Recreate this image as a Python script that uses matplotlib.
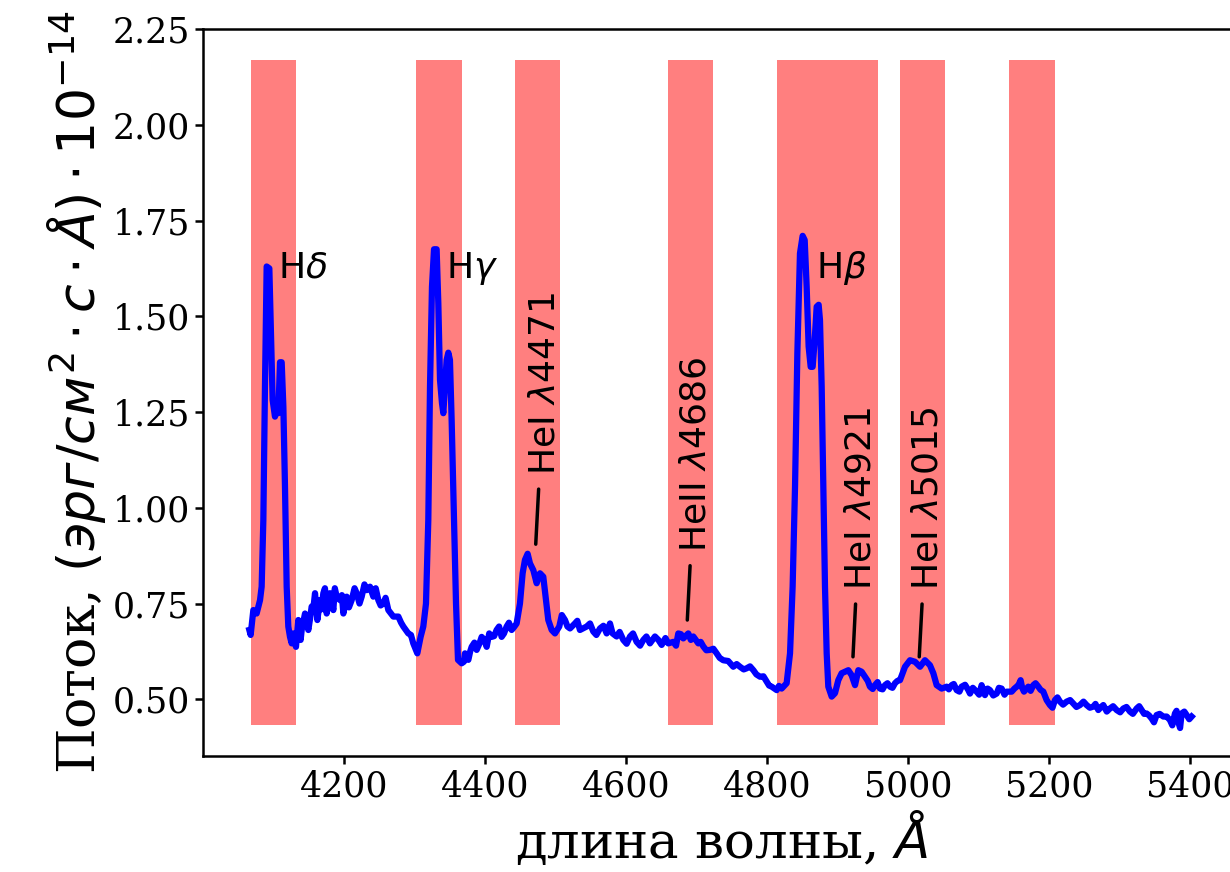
import numpy as np
import matplotlib
matplotlib.use('Agg')
import matplotlib.pyplot as plt

# spectrum (wavelength in A, flux in 1e-14 erg/cm2/s/A)
wave = [
    4065.7, 4067.6, 4071.4, 4076.1, 4080.9, 4083.2, 4085.6, 4087.9, 4090.3, 4094.1,
    4096.0, 4098.8, 4102.1, 4104.5, 4106.9, 4109.2, 4111.6, 4114.0, 4116.3, 4118.7,
    4121.0, 4123.4, 4125.8, 4128.1, 4131.9, 4135.2, 4140.0, 4144.7, 4149.4, 4154.1,
    4158.9, 4162.2, 4166.0, 4170.7, 4175.4, 4180.1, 4184.9, 4189.6, 4194.3, 4199.1,
    4203.8, 4210.9, 4218.0, 4225.1, 4232.1, 4236.9, 4241.6, 4248.7, 4255.8, 4262.9,
    4270.0, 4277.1, 4284.2, 4291.2, 4298.3, 4304.0, 4308.7, 4312.5, 4316.3, 4319.6,
    4322.0, 4324.8, 4327.7, 4331.4, 4333.8, 4336.2, 4339.0, 4340.9, 4343.2, 4345.6,
    4348.0, 4350.3, 4352.7, 4356.0, 4358.9, 4361.7, 4366.9, 4371.6, 4376.4, 4381.1,
    4388.2, 4395.3, 4402.4, 4409.4, 4416.5, 4423.6, 4430.7, 4437.8, 4444.9, 4449.6,
    4453.4, 4456.7, 4460.5, 4463.8, 4468.6, 4473.3, 4478.0, 4482.7, 4486.5, 4489.8,
    4494.6, 4499.3, 4505.4, 4513.5, 4520.6, 4527.6, 4534.7, 4544.2, 4553.6, 4563.1,
    4572.6, 4577.3, 4586.7, 4596.2, 4605.7, 4615.1, 4624.6, 4634.0, 4641.1, 4650.6,
    4660.0, 4667.1, 4674.2, 4681.3, 4688.4, 4695.5, 4702.6, 4709.7, 4719.1, 4728.6,
    4738.0, 4752.2, 4761.7, 4771.2, 4780.7, 4790.1, 4799.6, 4806.7, 4813.8, 4820.8,
    4827.9, 4832.7, 4836.4, 4839.8, 4843.1, 4846.8, 4850.6, 4853.5, 4856.3, 4859.1,
    4862.0, 4864.8, 4867.7, 4870.5, 4873.3, 4875.2, 4877.6, 4880.0, 4882.3, 4884.7,
    4887.0, 4891.8, 4896.5, 4901.2, 4905.9, 4910.7, 4915.4, 4920.1, 4924.9, 4929.6,
    4934.3, 4939.0, 4946.1, 4953.2, 4960.3, 4967.4, 4974.5, 4981.6, 4988.7, 4995.8,
    5002.9, 5010.0, 5017.1, 5024.1, 5031.2, 5036.0, 5040.7, 5047.8, 5054.9, 5062.0,
    5069.1, 5076.1, 5085.6, 5088.0, 5097.4, 5104.5, 5109.2, 5116.3, 5125.8, 5132.9,
    5140.0, 5147.1, 5154.2, 5159.8, 5164.6, 5170.7, 5177.8, 5184.9, 5192.0, 5196.7,
    5201.4, 5208.5, 5215.6, 5225.1, 5234.5, 5244.0, 5253.4, 5262.9, 5270.0, 5277.1,
    5286.5, 5296.0, 5305.5, 5314.9, 5324.4, 5331.5, 5338.5, 5345.6, 5352.7, 5362.2,
    5371.6, 5378.7, 5383.5, 5388.2, 5395.3, 5402.4,
]
flux = [
    0.681, 0.668, 0.733, 0.724, 0.759, 0.794, 0.968, 1.316, 1.630, 1.625,
    1.490, 1.281, 1.238, 1.264, 1.247, 1.380, 1.380, 1.264, 1.055, 0.794,
    0.690, 0.663, 0.646, 0.672, 0.637, 0.707, 0.681, 0.724, 0.681, 0.742,
    0.777, 0.707, 0.759, 0.777, 0.724, 0.777, 0.733, 0.768, 0.759, 0.724,
    0.768, 0.759, 0.777, 0.768, 0.785, 0.794, 0.768, 0.759, 0.750, 0.733,
    0.716, 0.716, 0.690, 0.672, 0.646, 0.620, 0.663, 0.690, 0.750, 0.968,
    1.316, 1.577, 1.675, 1.675, 1.534, 1.334, 1.273, 1.247, 1.316, 1.386,
    1.405, 1.386, 1.229, 0.968, 0.750, 0.603, 0.594, 0.620, 0.603, 0.637,
    0.629, 0.663, 0.637, 0.663, 0.681, 0.663, 0.690, 0.681, 0.698, 0.750,
    0.829, 0.864, 0.880, 0.855, 0.837, 0.803, 0.829, 0.820, 0.759, 0.707,
    0.681, 0.672, 0.690, 0.707, 0.685, 0.698, 0.681, 0.690, 0.677, 0.685,
    0.672, 0.698, 0.664, 0.655, 0.664, 0.650, 0.655, 0.646, 0.664, 0.642,
    0.646, 0.650, 0.672, 0.659, 0.672, 0.664, 0.646, 0.638, 0.629, 0.620,
    0.602, 0.585, 0.585, 0.581, 0.576, 0.559, 0.546, 0.533, 0.524, 0.528,
    0.542, 0.620, 0.794, 1.055, 1.403, 1.664, 1.710, 1.699, 1.577, 1.421,
    1.368, 1.368, 1.438, 1.525, 1.530, 1.490, 1.316, 1.055, 0.794, 0.620,
    0.533, 0.507, 0.516, 0.550, 0.568, 0.572, 0.576, 0.563, 0.537, 0.576,
    0.572, 0.559, 0.533, 0.537, 0.528, 0.537, 0.533, 0.542, 0.550, 0.585,
    0.602, 0.598, 0.585, 0.602, 0.589, 0.568, 0.537, 0.528, 0.533, 0.537,
    0.524, 0.533, 0.524, 0.515, 0.520, 0.537, 0.511, 0.524, 0.515, 0.528,
    0.520, 0.520, 0.533, 0.550, 0.520, 0.533, 0.537, 0.533, 0.520, 0.498,
    0.485, 0.498, 0.494, 0.494, 0.489, 0.485, 0.485, 0.481, 0.472, 0.485,
    0.476, 0.472, 0.476, 0.468, 0.476, 0.472, 0.463, 0.450, 0.459, 0.455,
    0.446, 0.463, 0.441, 0.463, 0.459, 0.455,
]

# small noise spikes seen on the continuum
wave_jag = [
    4138.5, 4152, 4157, 4168, 4173, 4178, 4187, 4197, 4207, 4215, 4222, 4229, 4245,
    4252, 4259, 4281, 4295, 4370, 4379, 4385, 4392, 4399, 4406, 4413, 4420, 4427,
    4434, 4441, 4509, 4517, 4531, 4549, 4558, 4568, 4581, 4591, 4601, 4610, 4620,
    4629, 4646, 4656, 4671, 4678, 4692, 4706, 4714, 4724, 4733, 4745, 4757, 4767,
    4776, 4785, 4795, 4803, 4817, 4943, 4950, 4957, 4964, 4971, 4978, 4985, 5058,
    5065, 5073, 5081, 5092, 5101, 5113, 5121, 5129, 5137, 5151, 5157, 5162, 5174,
    5181, 5188, 5205, 5212, 5220, 5230, 5239, 5249, 5258, 5266, 5274, 5282, 5291,
    5301, 5310, 5319, 5328, 5335, 5342, 5349, 5357, 5367, 5375, 5381, 5386, 5392,
    5399,
]
flux_jag = [
    0.655, 0.712, 0.745, 0.735, 0.790, 0.752, 0.790, 0.772, 0.740, 0.790, 0.750, 0.800, 0.790,
    0.745, 0.765, 0.700, 0.668, 0.598, 0.625, 0.648, 0.645, 0.655, 0.672, 0.665, 0.690, 0.672,
    0.700, 0.688, 0.720, 0.690, 0.705, 0.698, 0.668, 0.692, 0.672, 0.676, 0.645, 0.672, 0.640,
    0.664, 0.655, 0.660, 0.640, 0.670, 0.655, 0.650, 0.628, 0.632, 0.608, 0.600, 0.592, 0.578,
    0.586, 0.565, 0.560, 0.536, 0.535, 0.548, 0.527, 0.545, 0.526, 0.542, 0.530, 0.548, 0.526,
    0.540, 0.520, 0.538, 0.530, 0.512, 0.528, 0.510, 0.530, 0.512, 0.528, 0.538, 0.530, 0.522,
    0.542, 0.525, 0.478, 0.505, 0.486, 0.498, 0.480, 0.494, 0.478, 0.488, 0.480, 0.468, 0.482,
    0.466, 0.480, 0.462, 0.482, 0.462, 0.458, 0.440, 0.462, 0.455, 0.432, 0.470, 0.425, 0.468,
    0.448,
]

# shaded line windows (left, right) in A
span_left = [4068, 4302, 4443, 4659, 4814, 4988, 5143]
span_right = [4132, 4367, 4507, 4723, 4958, 5052, 5208]
span_low, span_high = 0.433, 2.169

# horizontal labels
h_labels = [r'H$\delta$', r'H$\gamma$', r'H$\beta$']
h_x = [4107, 4345, 4870]
h_y = 1.60

# rotated line labels: text, line point, text point
he_labels = [r'HeI $\lambda$4471', r'HeII $\lambda$4686', r'HeI $\lambda$4921', r'HeI $\lambda$5015']
he_xy = [(4472, 0.905), (4687, 0.707), (4922, 0.611), (5016, 0.611)]
he_text = [(4484, 1.085), (4699, 0.885), (4933, 0.785), (5028, 0.785)]

plt.rcParams['font.family'] = 'serif'
plt.rcParams['font.serif'] = ['DejaVu Serif']

w = np.array(wave + wave_jag)
f = np.array(flux + flux_jag)
order = np.argsort(w)
w, f = w[order], f[order]

fig = plt.figure(figsize=(12.3, 8.72), dpi=100)
ax = fig.add_axes([203 / 1230, (872 - 756) / 872, (1240 - 203) / 1230, (756 - 29) / 872])

for l, r in zip(span_left, span_right):
    ax.fill_between([l, r], span_low, span_high, color='red', alpha=0.5, lw=0, zorder=1)

ax.plot(w, f, color='b', lw=4.5, zorder=3)

for t, x in zip(h_labels, h_x):
    ax.text(x, h_y, t, fontsize=26, family='DejaVu Sans', zorder=4)

for t, xy, xt in zip(he_labels, he_xy, he_text):
    ax.annotate(t, xy=xy, xytext=xt, rotation=90, ha='center', va='bottom',
                fontsize=26, family='DejaVu Sans', zorder=4,
                arrowprops=dict(arrowstyle='-', color='k', lw=2.5, shrinkA=8, shrinkB=0))

ax.set_xlim(4000, 5471)
ax.set_ylim(0.352, 2.25)
ax.set_xticks([4200, 4400, 4600, 4800, 5000, 5200, 5400])
ax.set_yticks([0.5, 0.75, 1.0, 1.25, 1.5, 1.75, 2.0, 2.25])
ax.tick_params(labelsize=25, length=6, width=1.8)
for s in ax.spines.values():
    s.set_linewidth(1.8)

ax.set_xlabel(r'длина волны, $\AA$', fontsize=37, labelpad=5)
ax.set_ylabel(r'Поток, $(эрг/см^2\cdot с\cdot \AA)\cdot 10^{-14}$', fontsize=37.5, labelpad=3)

fig.savefig('out.png', dpi=100)
